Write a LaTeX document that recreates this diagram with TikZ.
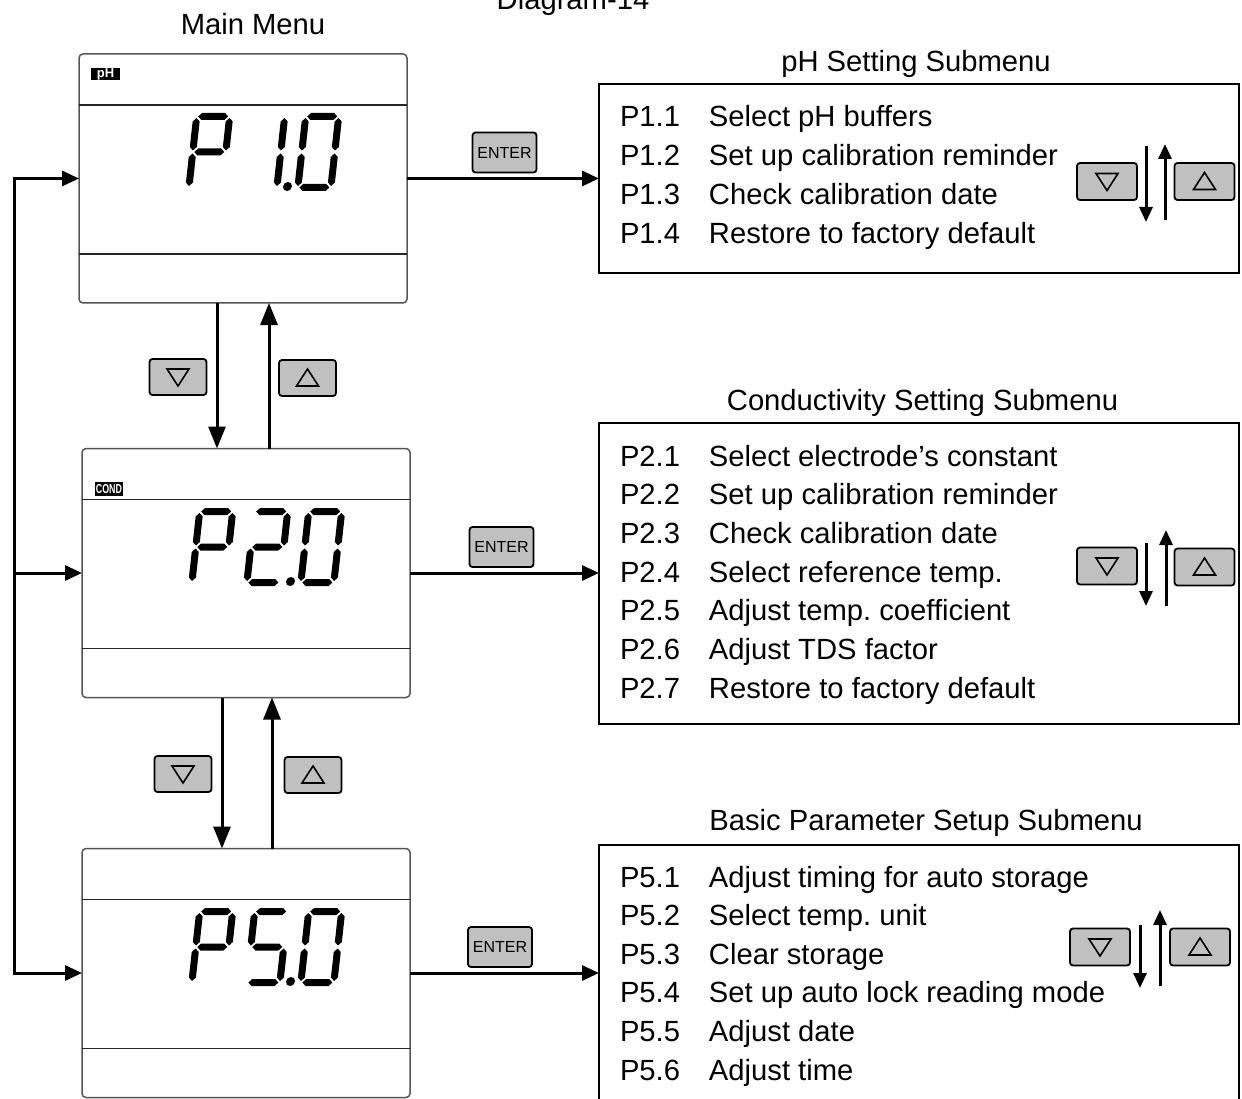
\documentclass[tikz,border=0pt]{standalone}
\usepackage{fontspec}
\setmainfont{Liberation Sans}
\usetikzlibrary{arrows.meta,calc}
\definecolor{btngray}{HTML}{C0C0C0}
\definecolor{boxgray}{HTML}{555555}
\frenchspacing

% seven segment pieces, local coordinates (u,-v), v measured upwards
\newcommand\sga{\fill (5,-74.5) -- (8.5,-78) -- (31.5,-78) -- (35,-74.5) -- (31.5,-71) -- (8.5,-71) -- cycle;}
\newcommand\sgg{\fill (5,-39) -- (8.5,-42.5) -- (31.5,-42.5) -- (35,-39) -- (31.5,-35.5) -- (8.5,-35.5) -- cycle;}
\newcommand\sgd{\fill (5,-3.5) -- (8.5,-7) -- (31.5,-7) -- (35,-3.5) -- (31.5,0) -- (8.5,0) -- cycle;}
\newcommand\sgf{\fill (3.5,-40.5) -- (7,-44) -- (7,-69.5) -- (3.5,-73) -- (0,-69.5) -- (0,-44) -- cycle;}
\newcommand\sgb{\fill (36.5,-40.5) -- (40,-44) -- (40,-69.5) -- (36.5,-73) -- (33,-69.5) -- (33,-44) -- cycle;}
\newcommand\sge{\fill (3.5,-5) -- (7,-8.5) -- (7,-34) -- (3.5,-37.5) -- (0,-34) -- (0,-8.5) -- cycle;}
\newcommand\sgc{\fill (36.5,-5) -- (40,-8.5) -- (40,-34) -- (36.5,-37.5) -- (33,-34) -- (33,-8.5) -- cycle;}
\newcommand\sgdot{\fill (47,-4.5) circle (4.5);}
\newcommand\sdigit[3]{\begin{scope}[shift={(#1,#2)},xslant=0.11]#3\end{scope}}
\newcommand\itm[4]{\node[item] (#1) at (620,#2) {\makebox[89pt][l]{#3}#4};}

\begin{document}
\begin{tikzpicture}[x=1pt,y=-1pt,
  every node/.style={inner sep=0pt,outer sep=0pt},
  disp/.style={draw=boxgray,line width=1.5pt,rounded corners=4pt,minimum width=328pt,minimum height=249pt},
  dline/.style={draw=black!85,line width=1.5pt},
  sub/.style={draw=black,line width=2.5pt,minimum width=640pt},
  btn/.style={draw=black,line width=1.8pt,fill=btngray,rounded corners=3pt,minimum width=57pt,minimum height=36pt},
  enterbtn/.style={btn,minimum width=64pt,minimum height=40pt,font=\fontsize{16}{16}\selectfont},
  tri/.style={draw=black,line width=1.6pt,line join=miter},
  arr/.style={line width=3pt,-{Triangle[length=17pt,width=15pt]}},
  varr/.style={line width=3pt,-{Triangle[length=22pt,width=17pt]}},
  sarr/.style={line width=3pt,-{Triangle[length=15pt,width=13pt]}},
  title/.style={font=\fontsize{29.2}{35}\selectfont,anchor=base},
  item/.style={font=\fontsize{29.2}{35}\selectfont,anchor=base west},
  lbl/.style={fill=black,text=white,font=\bfseries\fontsize{13}{13}\selectfont}
]
\path[use as bounding box] (0,0) rectangle (1242,1099);
\clip (0,0) rectangle (1242,1099);

% titles
\node[title] (tdiag) at (573,10) {Diagram-14};
\node[title] (tmain) at (253,35) {Main Menu};
\node[title] (tA) at (916,72) {pH Setting Submenu};
\node[title] (tB) at (922.5,410) {Conductivity Setting Submenu};
\node[title] (tC) at (926,830) {Basic Parameter Setup Submenu};

% display boxes
\node[disp] (d1) at (243,178.5) {};
\node[disp] (d2) at (246,573) {};
\node[disp] (d3) at (246,973) {};
\foreach \d in {d1,d2,d3}{
  \draw[dline] ([yshift=-51pt]\d.north west) -- ([yshift=-51pt]\d.north east);
  \draw[dline] ([yshift=-200pt]\d.north west) -- ([yshift=-200pt]\d.north east);
}
\node[lbl,minimum width=29pt,minimum height=12pt] (phl) at (105.5,74) {\raisebox{0.5pt}{pH}};
\node[lbl,minimum width=28pt,minimum height=14pt] (condl) at (109,489) {\scalebox{0.68}[1]{COND}};

% seven segment readouts
\sdigit{185}{191}{\sga\sgb\sgf\sgg\sge}
\sdigit{240}{191}{\sgb\sgc\sgdot}
\sdigit{294}{191}{\sga\sgb\sgc\sgd\sge\sgf}
\sdigit{188}{586}{\sga\sgb\sgf\sgg\sge}
\sdigit{243}{586}{\sga\sgb\sgg\sge\sgd\sgdot}
\sdigit{297}{586}{\sga\sgb\sgc\sgd\sge\sgf}
\sdigit{188}{986}{\sga\sgb\sgf\sgg\sge}
\sdigit{243}{986}{\sga\sgf\sgg\sgc\sgd\sgdot}
\sdigit{297}{986}{\sga\sgb\sgc\sgd\sge\sgf}

% submenu boxes
\node[sub,minimum height=189pt] (sA) at (919,178.5) {};
\node[sub,minimum height=301pt] (sB) at (919,573.5) {};
\node[sub,minimum height=260pt] (sC) at (919,975) {};

\itm{a1}{127}{P1.1}{Select pH buffers}
\itm{a2}{166}{P1.2}{Set up calibration reminder}
\itm{a3}{205}{P1.3}{Check calibration date}
\itm{a4}{244}{P1.4}{Restore to factory default}

\itm{b1}{466}{P2.1}{Select electrode’s constant}
\itm{b2}{504.7}{P2.2}{Set up calibration reminder}
\itm{b3}{543.4}{P2.3}{Check calibration date}
\itm{b4}{582.1}{P2.4}{Select reference temp.}
\itm{b5}{620.8}{P2.5}{Adjust temp. coefficient}
\itm{b6}{659.5}{P2.6}{Adjust TDS factor}
\itm{b7}{698.2}{P2.7}{Restore to factory default}

\itm{c1}{887}{P5.1}{Adjust timing for auto storage}
\itm{c2}{925.6}{P5.2}{Select temp. unit}
\itm{c3}{964.2}{P5.3}{Clear storage}
\itm{c4}{1002.8}{P5.4}{Set up auto lock reading mode}
\itm{c5}{1041.4}{P5.5}{Adjust date}
\itm{c6}{1080}{P5.6}{Adjust time}

% ENTER connectors
\draw[arr] (d1.east) -- (d1.east -| sA.west);
\draw[arr] (d2.east) -- (d2.east -| sB.west);
\draw[arr] (d3.east) -- (d3.east -| sC.west);
\node[enterbtn] (e1) at (504.5,152.5) {ENTER};
\node[enterbtn] (e2) at (501.5,547) {ENTER};
\node[enterbtn] (e3) at (500,947) {ENTER};

% left return loop
\coordinate (L1) at (14,178.5);
\coordinate (L3) at (14,973);
\draw[line width=3pt,line cap=rect] (L1) -- (L3);
\draw[arr] (L1) -- (d1.west);
\draw[arr] (L1 |- d2.west) -- (d2.west);
\draw[arr] (L3) -- (d3.west);

% vertical navigation between displays
\coordinate (v1d) at ([xshift=-26pt]d1.south);
\coordinate (v1u) at ([xshift=23pt]d2.north);
\coordinate (v2d) at ([xshift=-24pt]d2.south);
\coordinate (v2u) at ([xshift=26pt]d3.north);
\draw[varr] (v1d) -- (v1d |- d2.north);
\draw[varr] (v1u) -- (v1u |- d1.south);
\draw[varr] (v2d) -- (v2d |- d3.north);
\draw[varr] (v2u) -- (v2u |- d2.south);

% down / up buttons
\node[btn] (bd1) at (178,377) {};
\node[btn] (bu1) at (307.5,378) {};
\node[btn] (bd2) at (183,774) {};
\node[btn] (bu2) at (313,775) {};
\node[btn,minimum width=60pt,minimum height=37pt] (bdA) at (1107,181.5) {};
\node[btn,minimum width=60pt,minimum height=37pt] (buA) at (1204.5,181.5) {};
\node[btn,minimum width=60pt,minimum height=37pt] (bdB) at (1107,566) {};
\node[btn,minimum width=60pt,minimum height=37pt] (buB) at (1204.5,567) {};
\node[btn,minimum width=60pt,minimum height=37pt] (bdC) at (1100,947) {};
\node[btn,minimum width=60pt,minimum height=37pt] (buC) at (1200,947) {};
\foreach \b in {bd1,bd2,bdA,bdB,bdC}{
  \draw[tri] ($(\b.center)+(-11,-8)$) -- ($(\b.center)+(11,-8)$) -- ($(\b.center)+(0,9)$) -- cycle;
}
\foreach \b in {bu1,bu2,buA,buB,buC}{
  \draw[tri] ($(\b.center)+(-11,8)$) -- ($(\b.center)+(11,8)$) -- ($(\b.center)+(0,-9)$) -- cycle;
}

% scroll arrows in submenus
\coordinate (sAd1) at (1146,146); \coordinate (sAd2) at (1146,222);
\coordinate (sAu1) at (1165,220); \coordinate (sAu2) at (1165,144);
\coordinate (sBd1) at (1146,543); \coordinate (sBd2) at (1146,606);
\coordinate (sBu1) at (1166,606); \coordinate (sBu2) at (1166,530);
\coordinate (sCd1) at (1140,925); \coordinate (sCd2) at (1140,988);
\coordinate (sCu1) at (1160,986); \coordinate (sCu2) at (1160,910);
\draw[sarr] (sAd1) -- (sAd2);
\draw[sarr] (sAu1) -- (sAu2);
\draw[sarr] (sBd1) -- (sBd2);
\draw[sarr] (sBu1) -- (sBu2);
\draw[sarr] (sCd1) -- (sCd2);
\draw[sarr] (sCu1) -- (sCu2);
\end{tikzpicture}
\end{document}
